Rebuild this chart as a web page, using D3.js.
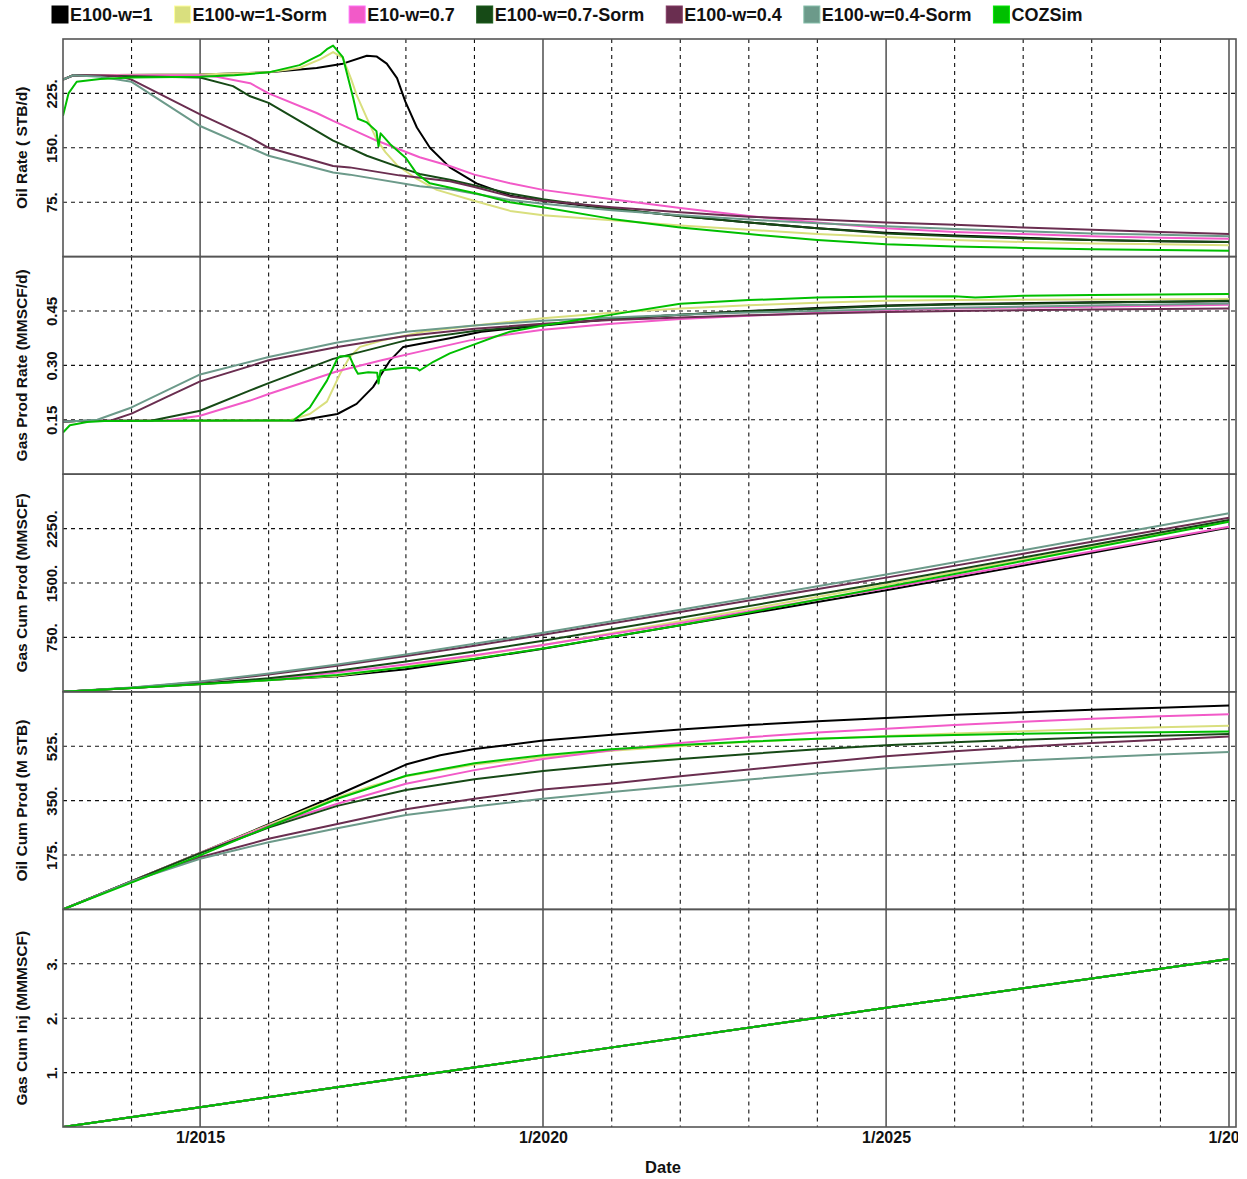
<!DOCTYPE html>
<html>
<head>
<meta charset="utf-8">
<script src="https://cdn.jsdelivr.net/npm/d3@7"></script>
<style>
  body { margin: 0; background: #fff; }
  text { font-family: "Liberation Sans", Arial, sans-serif; font-weight: bold; fill: #111; }
</style>
</head>
<body>
<svg id="chart" width="1247" height="1179"></svg>
<script>
// series in legend order
const seriesNames = ["E100-w=1", "E100-w=1-Sorm", "E10-w=0.7", "E100-w=0.7-Sorm", "E100-w=0.4", "E100-w=0.4-Sorm", "COZSim"];
const seriesColors = ["#000000", "#d9df7e", "#f25ac8", "#164a16", "#6a2e50", "#6c9a8a", "#00bf00"];

// [decimal year, value] per series, same order as seriesNames
const oilRate = [
  [[2013,244],[2013.15,250],[2015,251],[2016,254],[2016.7,260],[2017.08,266],[2017.43,277],[2017.57,276],[2017.72,266],[2017.87,246],[2017.99,214],[2018.16,178],[2018.35,150],[2018.64,123],[2019.03,101],[2019.52,84],[2020,77],[2021,66],[2022,56],[2023,47],[2024,39],[2025,33],[2026,29],[2027,26],[2028,23],[2029,21],[2030,20]],
  [[2013,244],[2013.15,250],[2015,251],[2016,254],[2016.45,260],[2016.75,272],[2016.94,282],[2017.08,274],[2017.2,245],[2017.28,223],[2017.43,191],[2017.57,162],[2017.7,144],[2017.87,126],[2018.16,107],[2018.45,92],[2019.03,76],[2019.52,63],[2020,57],[2021,50],[2022,43],[2023,37],[2024,31],[2025,27],[2026,23],[2027,20],[2028,18],[2029,17],[2030,15.5]],
  [[2013,244],[2013.15,250],[2015,250],[2015.24,248],[2015.73,239],[2016,225],[2016.7,198],[2016.94,187],[2017.57,160],[2018.2,137],[2018.64,125],[2019,113],[2019.52,101],[2020,92],[2021,79],[2022,67],[2023,56],[2024,47],[2025,39],[2026,34],[2027,31],[2028,28],[2029,26],[2030,24.5]],
  [[2013,244],[2013.15,250],[2015,247],[2015.48,235],[2015.73,221],[2016,212],[2016.94,160],[2017.18,150],[2017.43,139],[2017.91,123],[2018.2,114],[2018.64,106],[2019.52,87],[2020,79],[2021,66],[2022,56],[2023,47],[2024,39],[2025,32],[2026,28],[2027,25],[2028,23],[2029,21],[2030,20]],
  [[2013,244],[2013.15,250],[2013.8,249],[2014,244],[2015,196],[2015.73,164],[2016,150],[2016.94,125],[2017.18,123],[2017.9,112],[2018.64,104],[2019,96],[2019.52,83],[2020,77],[2021,68],[2022,61],[2023,55],[2024,51],[2025,47],[2026,44],[2027,40],[2028,37],[2029,34],[2030,31]],
  [[2013,244],[2013.15,250],[2013.54,248],[2014,241],[2015,180],[2015.73,150],[2016,139],[2016.94,116],[2017.18,113],[2018.2,97],[2018.64,93],[2019.52,78],[2020,73],[2021,64],[2022,57],[2023,51],[2024,46],[2025,42],[2026,38],[2027,35],[2028,32],[2029,30],[2030,28]],
  [[2013,194],[2013.08,225],[2013.2,241],[2013.54,245],[2014,247],[2015,248],[2015.5,250],[2016,254],[2016.45,264],[2016.75,278],[2016.85,286],[2016.94,291],[2017.08,275],[2017.23,219],[2017.3,190],[2017.43,185],[2017.57,173],[2017.6,152],[2017.63,170],[2017.77,155],[2018,136],[2018.16,114],[2018.35,101],[2019.03,87],[2019.52,75],[2020,68],[2021,52],[2022,40],[2023,31],[2024,23],[2025,17],[2026,14],[2027,12],[2028,10],[2029,9],[2030,8]]
];

const gasRate = [
  [[2013,0.145],[2013.2,0.147],[2016.45,0.148],[2017,0.166],[2017.28,0.194],[2017.52,0.24],[2017.77,0.314],[2017.96,0.351],[2018.64,0.375],[2019.1,0.393],[2020,0.41],[2021,0.428],[2022,0.44],[2023,0.45],[2024,0.458],[2025,0.465],[2026,0.469],[2028,0.474],[2030,0.477]],
  [[2013,0.145],[2013.2,0.147],[2016.3,0.148],[2016.6,0.166],[2016.85,0.2],[2017.04,0.277],[2017.18,0.323],[2017.33,0.351],[2017.66,0.369],[2018.25,0.393],[2019,0.41],[2020,0.43],[2021,0.445],[2022,0.457],[2023,0.466],[2024,0.473],[2025,0.478],[2026,0.48],[2028,0.482],[2030,0.483]],
  [[2013,0.145],[2013.2,0.147],[2014.5,0.148],[2015,0.161],[2015.73,0.203],[2016,0.221],[2017,0.284],[2017.66,0.315],[2018.2,0.338],[2018.93,0.369],[2019.52,0.386],[2020,0.398],[2021,0.415],[2022,0.428],[2023,0.437],[2024,0.445],[2025,0.453],[2026,0.457],[2028,0.462],[2030,0.467]],
  [[2013,0.145],[2013.2,0.147],[2014.3,0.148],[2015,0.175],[2015.73,0.231],[2016,0.251],[2016.94,0.318],[2018,0.369],[2019,0.395],[2020,0.412],[2021,0.428],[2022,0.44],[2023,0.449],[2024,0.456],[2025,0.464],[2026,0.468],[2028,0.473],[2030,0.478]],
  [[2013,0.145],[2013.2,0.147],[2013.7,0.148],[2014,0.167],[2014.5,0.212],[2015,0.256],[2016,0.314],[2017,0.351],[2018,0.381],[2019,0.401],[2020,0.415],[2021,0.425],[2022,0.432],[2023,0.438],[2024,0.443],[2025,0.447],[2026,0.45],[2028,0.454],[2030,0.457]],
  [[2013,0.145],[2013.2,0.147],[2013.5,0.15],[2014,0.184],[2014.5,0.23],[2015,0.275],[2016,0.323],[2017,0.363],[2018,0.393],[2019,0.41],[2020,0.423],[2021,0.432],[2022,0.44],[2023,0.446],[2024,0.45],[2025,0.455],[2026,0.459],[2028,0.465],[2030,0.471]],
  [[2013,0.115],[2013.1,0.135],[2013.35,0.144],[2013.6,0.147],[2016.36,0.148],[2016.6,0.184],[2016.85,0.258],[2017,0.319],[2017.04,0.325],[2017.18,0.325],[2017.26,0.29],[2017.3,0.277],[2017.45,0.281],[2017.58,0.28],[2017.6,0.25],[2017.63,0.286],[2018,0.294],[2018.16,0.292],[2018.2,0.286],[2018.4,0.31],[2018.64,0.333],[2019.03,0.36],[2019.3,0.379],[2019.52,0.393],[2020,0.41],[2020.5,0.425],[2021,0.44],[2022,0.47],[2023,0.48],[2024,0.487],[2025,0.49],[2026,0.491],[2026.3,0.487],[2026.6,0.489],[2027,0.492],[2028,0.494],[2030,0.497]]
];

const gasCum = [
  [[2013,0],[2014,54],[2015,107],[2016,161],[2017,216],[2018,311],[2019,448],[2020,594],[2022,916],[2025,1399],[2027,1741],[2030,2264]],
  [[2013,0],[2014,54],[2015,107],[2016,161],[2017,222],[2018,346],[2019,492],[2020,645],[2022,973],[2025,1475],[2027,1825],[2030,2351]],
  [[2013,0],[2014,54],[2015,107],[2016,176],[2017,267],[2018,377],[2019,503],[2020,644],[2022,950],[2025,1429],[2027,1765],[2030,2275]],
  [[2013,0],[2014,54],[2015,110],[2016,187],[2017,291],[2018,417],[2019,556],[2020,703],[2022,1020],[2025,1508],[2027,1852],[2030,2368]],
  [[2013,0],[2014,57],[2015,134],[2016,238],[2017,360],[2018,494],[2019,636],[2020,785],[2022,1100],[2025,1574],[2027,1903],[2030,2399]],
  [[2013,0],[2014,58],[2015,142],[2016,252],[2017,377],[2018,515],[2019,661],[2020,813],[2022,1131],[2025,1616],[2027,1953],[2030,2461]],
  [[2013,0],[2014,52],[2015,105],[2016,159],[2017,232],[2018,338],[2019,455],[2020,597],[2022,918],[2025,1444],[2027,1804],[2030,2344]]
];

const oilCum = [
  [[2013,0],[2014,91],[2015,182],[2016,274],[2017,368],[2018,466],[2018.5,496],[2019,516],[2020,543],[2021,562],[2022,579],[2023,593],[2024,605],[2025,616],[2026,626],[2027,634],[2028,642],[2029,649],[2030,656]],
  [[2013,0],[2014,91],[2015,182],[2016,272],[2017,360],[2017.5,397],[2018,428],[2019,466],[2020,490],[2021,510],[2022,526],[2023,539],[2024,549],[2025,558],[2026,566],[2027,573],[2028,580],[2029,586],[2030,591]],
  [[2013,0],[2014,91],[2015,182],[2016,269],[2017,340],[2018,404],[2019,448],[2020,484],[2021,512],[2022,535],[2023,554],[2024,569],[2025,581],[2026,593],[2027,604],[2028,613],[2029,621],[2030,628]],
  [[2013,0],[2014,91],[2015,181],[2016,263],[2017,333],[2018,384],[2019,419],[2020,445],[2021,466],[2022,484],[2023,500],[2024,515],[2025,528],[2026,538],[2027,546],[2028,553],[2029,559],[2030,564]],
  [[2013,0],[2014,90],[2015,168],[2016,227],[2017,275],[2018,322],[2019,356],[2020,386],[2021,405],[2022,428],[2023,450],[2024,472],[2025,493],[2026,509],[2027,523],[2028,535],[2029,546],[2030,556]],
  [[2013,0],[2014,90],[2015,163],[2016,216],[2017,261],[2018,304],[2019,331],[2020,356],[2021,378],[2022,398],[2023,418],[2024,437],[2025,454],[2026,467],[2027,479],[2028,489],[2029,498],[2030,506]],
  [[2013,0],[2014,86],[2015,174],[2016,266],[2017,356],[2017.5,392],[2018,430],[2019,470],[2020,496],[2021,515],[2022,529],[2023,540],[2024,549],[2025,556],[2026,561],[2027,565],[2028,568],[2029,570],[2030,572]]
];

// injection is the same for every case
const gasInjCase = [[2013,0],[2015,0.365],[2018,0.915],[2020,1.28],[2025,2.19],[2030,3.09]];
const gasInj = seriesNames.map(() => gasInjCase);

const panelTitles = ["Oil Rate ( STB/d)", "Gas Prod Rate (MMSCF/d)", "Gas Cum Prod (MMSCF)", "Oil Cum Prod (M STB)", "Gas Cum Inj (MMMSCF)"];
const panelMax = [300, 0.6, 3000, 700, 4];
const panelTicks = [[75, 150, 225], [0.15, 0.30, 0.45], [750, 1500, 2250], [175, 350, 525], [1, 2, 3]];
const panelTickLabels = [["75.", "150.", "225."], ["0.15", "0.30", "0.45"], ["750.", "1500.", "2250."], ["175.", "350.", "525."], ["1.", "2.", "3."]];
const panelData = [oilRate, gasRate, gasCum, oilCum, gasInj];
const xLabelYears = [2015, 2020, 2025, 2030];

const toDate = yr => {
  const y = Math.floor(yr);
  return new Date(Date.UTC(y, 0, 1) + (yr - y) * 365.25 * 864e5);
};

const svg = d3.select("#chart");
const plotLeft = 63, plotRight = 1236, plotTop = 39, ph = 217.6;
const x = d3.scaleUtc().domain([toDate(2013), toDate(2030)]).range([plotLeft, 1229]);
const gridYears = d3.utcYear.range(toDate(2014), toDate(2031));

panelData.forEach((data, i) => {
  const y0 = plotTop + i * ph, y1 = y0 + ph;
  const y = d3.scaleLinear().domain([0, panelMax[i]]).range([y1, y0]);
  const g = svg.append("g");

  g.append("clipPath").attr("id", "clip" + i)
    .append("rect").attr("x", plotLeft).attr("y", y0).attr("width", plotRight - plotLeft).attr("height", ph);

  // vertical grid: dashed each year, solid every 5 years
  g.selectAll(".vg").data(gridYears).join("line")
    .attr("x1", d => x(d)).attr("x2", d => x(d))
    .attr("y1", y0).attr("y2", y1)
    .attr("stroke", d => d.getUTCFullYear() % 5 === 0 ? "#333" : "#111")
    .attr("stroke-width", d => d.getUTCFullYear() % 5 === 0 ? 1.3 : 1.1)
    .attr("stroke-dasharray", d => d.getUTCFullYear() % 5 === 0 ? null : "4,4");

  // horizontal grid
  g.selectAll(".hg").data(panelTicks[i]).join("line")
    .attr("x1", plotLeft).attr("x2", plotRight)
    .attr("y1", d => y(d)).attr("y2", d => y(d))
    .attr("stroke", "#111").attr("stroke-width", 1.1).attr("stroke-dasharray", "4,4");

  const line = d3.line().x(d => x(toDate(d[0]))).y(d => y(d[1]));
  g.append("g").attr("clip-path", `url(#clip${i})`)
    .selectAll("path").data(data).join("path")
    .attr("d", line)
    .attr("fill", "none")
    .attr("stroke", (d, j) => seriesColors[j])
    .attr("stroke-width", 2)
    .attr("stroke-linejoin", "round");

  // y tick labels, rotated
  const ax = g.append("g").attr("transform", `translate(${plotLeft},0)`)
    .call(d3.axisLeft(y).tickValues(panelTicks[i]).tickSize(0)
      .tickFormat((d, k) => panelTickLabels[i][k]));
  ax.select(".domain").remove();
  ax.selectAll("text")
    .attr("x", 0).attr("dy", null)
    .attr("text-anchor", "middle")
    .attr("transform", "translate(-6,0) rotate(-90)")
    .attr("font-size", 15)
    .attr("font-family", null);

  g.append("text")
    .attr("transform", `translate(27,${(y0 + y1) / 2}) rotate(-90)`)
    .attr("text-anchor", "middle")
    .attr("font-size", 15.5)
    .text(panelTitles[i]);

  // panel frame
  g.append("rect").attr("x", plotLeft).attr("y", y0).attr("width", plotRight - plotLeft).attr("height", ph)
    .attr("fill", "none").attr("stroke", "#555").attr("stroke-width", 1.6);
});

// x axis labels (the last one is cut by the widget edge, as in the original)
const xa = svg.append("g").attr("transform", `translate(0,${plotTop + 5 * ph})`);
xa.append("clipPath").attr("id", "clipx").append("rect").attr("x", 0).attr("y", 0).attr("width", 1238).attr("height", 30);
xa.attr("clip-path", "url(#clipx)")
  .call(d3.axisBottom(x).tickValues(xLabelYears.map(toDate)).tickFormat(d3.utcFormat("%-m/%Y")).tickSize(0).tickPadding(5));
xa.select(".domain").remove();
xa.selectAll("text").attr("font-size", 16).attr("font-family", null);
xa.selectAll(".tick").filter(d => d.getUTCFullYear() === 2030).attr("transform", `translate(${x(toDate(2030)) + 4},0)`);

svg.append("text").attr("x", 663).attr("y", 1173).attr("text-anchor", "middle").attr("font-size", 16.5).text("Date");

// legend
let lx = 52;
seriesNames.forEach((name, j) => {
  svg.append("rect").attr("x", lx).attr("y", 6).attr("width", 16).attr("height", 17)
    .attr("fill", seriesColors[j]).attr("stroke", d3.color(seriesColors[j]).brighter(0.6)).attr("stroke-width", 1);
  const t = svg.append("text").attr("x", lx + 18).attr("y", 21).attr("font-size", 18).text(name);
  lx += 18 + t.node().getComputedTextLength() + 22;
});
</script>
</body>
</html>
